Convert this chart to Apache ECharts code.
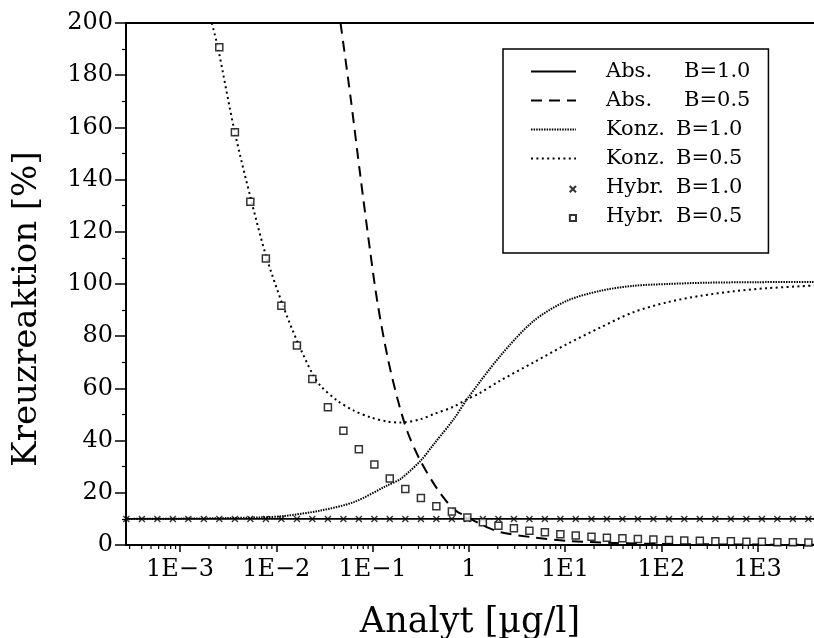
<!DOCTYPE html>
<html lang="de">

<head>
    <meta charset="UTF-8">
    <meta name="viewport" content="width=device-width, initial-scale=1.0">
    <title>Kreuzreaktion</title>
    <script src="https://cdn.jsdelivr.net/npm/echarts@6.0.0/dist/echarts.min.js"></script>
    <style>
        html, body { margin: 0; padding: 0; background: #fff; }
    </style>
</head>

<body>
    <div id="main" style="width: 814px;height:638px;"></div>
    <script type="text/javascript">

        // Werte
        var xTickValues = [1e-3, 1e-2, 1e-1, 1, 1e1, 1e2, 1e3];
        var xTickLabels = ['1E\u22123', '1E\u22122', '1E\u22121', '1', '1E1', '1E2', '1E3'];
        var minorMultipliers = [2, 3, 4, 5, 6, 7, 8, 9];
        var decades = [1e-4, 1e-3, 1e-2, 1e-1, 1, 1e1, 1e2, 1e3];

        // Abs. B=1.0
        var abs10X = [2.75e-4, 3850];
        var abs10Y = [10, 10];

        // Abs. B=0.5
        var abs05X = [0.0465, 0.0591, 0.075, 0.0953, 0.1127, 0.1432, 0.182, 0.231, 0.315, 0.47,
            0.693, 0.969, 1.43, 2.13, 4.73, 10.5, 31.6, 100, 1000, 3850];
        var abs05Y = [200, 171.6, 141, 111.5, 92.7, 72, 55.9, 43.3, 32.2, 21.5,
            13.8, 10.7, 7.4, 4.9, 2.9, 1.6, 0.8, 0.4, 0.15, 0.1];

        // Konz. B=1.0
        var konz10X = [2.75e-4, 1e-3, 3e-3, 0.007, 0.012, 0.0288, 0.0646, 0.142, 0.195, 0.316, 0.434, 0.70,
            0.96, 2.13, 4.73, 10.5, 23.4, 51, 115, 300, 1000, 3850];
        var konz10Y = [10.0, 10.1, 10.3, 10.6, 11.1, 13.2, 16.5, 22.8, 25.3, 32.3, 38.7, 48.3,
            55.9, 72.5, 85.9, 93.6, 97.4, 99.3, 100.0, 100.5, 100.7, 100.8];

        // Konz. B=0.5
        var konz05X = [2.14e-3, 2.48e-3, 3.69e-3, 5.5e-3, 7.87e-3, 0.01153, 0.01675, 0.0242, 0.0288, 0.043,
            0.064, 0.0955, 0.142, 0.195, 0.316, 0.434, 0.698, 0.96, 1.27, 2.13, 4.73, 10.5, 23.4, 51.3, 115,
            257, 562, 1259, 3850];
        var konz05Y = [200, 190.5, 158.5, 132, 110.5, 92.5, 77.5, 65, 61, 55.3,
            51.5, 48.9, 47.3, 46.9, 48.2, 50.2, 53, 55.9, 58, 63, 70, 77, 83.4, 89.2, 93,
            95.5, 97.2, 98.4, 99.4];

        // Hybr. (Messpunkte)
        var hybrX = [2.77e-4, 4.02e-4, 5.82e-4, 8.43e-4, 1.22e-3, 1.77e-3, 2.56e-3, 3.72e-3, 5.38e-3, 7.80e-3,
            0.0113, 0.0164, 0.0237, 0.0344, 0.0498, 0.0721, 0.1045, 0.151, 0.219, 0.318, 0.460, 0.667,
            0.966, 1.40, 2.03, 2.94, 4.26, 6.17, 8.93, 12.9, 18.8, 27.2, 39.4, 57.0, 82.6, 120, 173,
            251, 364, 527, 764, 1107, 1603, 2323, 3365];
        var hybr10Y = [10, 10, 10, 10, 10, 10, 10, 10, 10, 10,
            10, 10, 10, 10, 10, 10, 10, 10, 10, 10, 10, 10,
            10, 10, 10, 10, 10, 10, 10, 10, 10, 10, 10, 10, 10, 10, 10,
            10, 10, 10, 10, 10, 10, 10, 10];
        var hybr05Y = [null, null, null, null, null, null, 190.7, 158.1, 131.5, 109.8,
            91.7, 76.4, 63.6, 52.8, 43.8, 36.7, 30.8, 25.5, 21.5, 18.0, 14.8, 12.8,
            10.5, 8.7, 7.4, 6.4, 5.5, 4.9, 4.1, 3.6, 3.2, 2.8, 2.6, 2.3, 2.1, 1.9, 1.7,
            1.6, 1.4, 1.4, 1.2, 1.2, 1.1, 1.1, 1.0];

        var xMin = 2.75e-4, xMax = 3850;
        var serif = 'DejaVu Serif';

        function pairs(xs, ys) {
            var out = [];
            xs.forEach(function (x, i) {
                if (ys[i] !== null) out.push([x, ys[i]]);
            });
            return out;
        }

        var minorTicks = [];
        decades.forEach(function (d) {
            minorMultipliers.forEach(function (m) {
                var v = d * m;
                if (v > xMin && v < xMax) minorTicks.push([v, 0]);
            });
        });

        var crossPath = 'path://M0,0L1,1M1,0L0,1';
        var crossIcon = 'path://M0,0L0,0M37,3L43,9M43,3L37,9';
        var rectIcon = 'path://M0,0L0,0M38,3L44,3L44,9L38,9Z';
        var noSymbol = { opacity: 0 };

        var myChart = echarts.init(document.getElementById('main'));

        var option = {
            animation: false,
            backgroundColor: '#fff',
            grid: {
                left: 126,
                right: 0,
                top: 23,
                bottom: 93,
                outerBoundsMode: 'none'
            },
            legend: {
                orient: 'vertical',
                left: 503,
                top: 49,
                padding: [12, 18, 26, 27],
                itemWidth: 45,
                itemHeight: 14,
                itemGap: 8,
                borderColor: '#000',
                borderWidth: 1.5,
                backgroundColor: '#fff',
                data: [
                    { name: 'Abs. B=1.0', itemStyle: noSymbol },
                    { name: 'Abs. B=0.5', itemStyle: noSymbol },
                    { name: 'Konz. B=1.0', itemStyle: noSymbol },
                    { name: 'Konz. B=0.5', itemStyle: noSymbol },
                    { name: 'Hybr. B=1.0', icon: crossIcon },
                    { name: 'Hybr. B=0.5', icon: rectIcon }
                ],
                formatter: function (name) {
                    var parts = name.split(' ');
                    var key = parts[0] === 'Abs.' ? 'a1' : 'a2';
                    return '{' + key + '|' + parts[0] + '}{b|' + parts[1] + '}';
                },
                textStyle: {
                    fontFamily: serif,
                    fontSize: 21,
                    color: '#000',
                    rich: {
                        a1: { fontFamily: serif, fontSize: 21, width: 78, padding: [0, 0, 0, 25], lineHeight: 20.6 },
                        a2: { fontFamily: serif, fontSize: 21, width: 70, padding: [0, 0, 0, 25], lineHeight: 20.6 },
                        b: { fontFamily: serif, fontSize: 21, lineHeight: 20.6 }
                    }
                }
            },
            xAxis: [{
                type: 'log',
                min: xMin,
                max: xMax,
                splitNumber: 7,
                name: 'Analyt [\u00b5g/l]',
                nameLocation: 'middle',
                nameGap: 60,
                nameTextStyle: { fontFamily: serif, fontSize: 35, color: '#000' },
                axisLine: { lineStyle: { color: '#000', width: 2 } },
                axisTick: { length: 7, lineStyle: { color: '#000', width: 1.5 } },
                splitLine: { show: false },
                axisLabel: {
                    showMinLabel: false,
                    showMaxLabel: false,
                    margin: 13,
                    fontFamily: serif,
                    fontSize: 24,
                    color: '#000',
                    formatter: function (v) {
                        for (var i = 0; i < xTickValues.length; i++) {
                            if (Math.abs(Math.log10(v) - Math.log10(xTickValues[i])) < 1e-6) return xTickLabels[i];
                        }
                        return '';
                    }
                }
            }, {
                // obere Rahmenlinie
                type: 'log',
                position: 'top',
                min: xMin,
                max: xMax,
                axisLine: { show: true, lineStyle: { color: '#000', width: 2 } },
                axisTick: { show: false },
                axisLabel: { show: false },
                splitLine: { show: false }
            }],
            yAxis: {
                type: 'value',
                min: 0,
                max: 200,
                interval: 20,
                name: 'Kreuzreaktion [%]',
                nameLocation: 'middle',
                nameGap: 82,
                nameTextStyle: { fontFamily: serif, fontSize: 34, color: '#000', padding: [0, 50, 0, 0] },
                axisLine: { show: true, lineStyle: { color: '#000', width: 2 } },
                axisTick: { show: true, length: 11, lineStyle: { color: '#000', width: 1.5 } },
                minorTick: { show: true, splitNumber: 2, length: 4, lineStyle: { color: '#000', width: 1.2 } },
                splitLine: { show: false },
                axisLabel: { margin: 13, fontFamily: serif, fontSize: 24, color: '#000' }
            },
            series: [
                {
                    name: 'Abs. B=1.0',
                    type: 'line',
                    data: pairs(abs10X, abs10Y),
                    symbol: 'none',
                    color: '#000',
                    lineStyle: { color: '#000', width: 1.6, type: 'solid' }
                },
                {
                    name: 'Abs. B=0.5',
                    type: 'line',
                    data: pairs(abs05X, abs05Y),
                    symbol: 'none',
                    smooth: 0.3,
                    color: '#000',
                    lineStyle: { color: '#000', width: 2, type: [11, 7] }
                },
                {
                    name: 'Konz. B=1.0',
                    type: 'line',
                    data: pairs(konz10X, konz10Y),
                    symbol: 'none',
                    smooth: 0.3,
                    color: '#000',
                    lineStyle: { color: '#000', width: 2, type: [1.5, 1.1] }
                },
                {
                    name: 'Konz. B=0.5',
                    type: 'line',
                    data: pairs(konz05X, konz05Y),
                    symbol: 'none',
                    smooth: 0.3,
                    color: '#000',
                    lineStyle: { color: '#000', width: 2, type: [2, 3.4] }
                },
                {
                    name: 'Hybr. B=1.0',
                    type: 'scatter',
                    data: pairs(hybrX, hybr10Y),
                    symbol: crossPath,
                    symbolSize: 6,
                    color: '#000',
                    itemStyle: { color: 'rgba(0,0,0,0)', borderColor: '#000', borderWidth: 1.4 },
                    z: 3
                },
                {
                    name: 'Hybr. B=0.5',
                    type: 'scatter',
                    data: pairs(hybrX, hybr05Y),
                    symbol: 'rect',
                    symbolSize: 7,
                    color: '#000',
                    itemStyle: { color: '#fff', borderColor: '#000', borderWidth: 1.5 },
                    z: 4
                },
                {
                    name: 'minorTicks',
                    type: 'custom',
                    data: minorTicks,
                    clip: false,
                    silent: true,
                    z: 5,
                    renderItem: function (params, api) {
                        var p = api.coord([api.value(0), 0]);
                        return {
                            type: 'line',
                            shape: { x1: p[0], y1: p[1], x2: p[0], y2: p[1] + 4 },
                            style: { stroke: '#000', lineWidth: 1.2 }
                        };
                    }
                }
            ]
        };

        myChart.setOption(option);
    </script>
</body>

</html>
